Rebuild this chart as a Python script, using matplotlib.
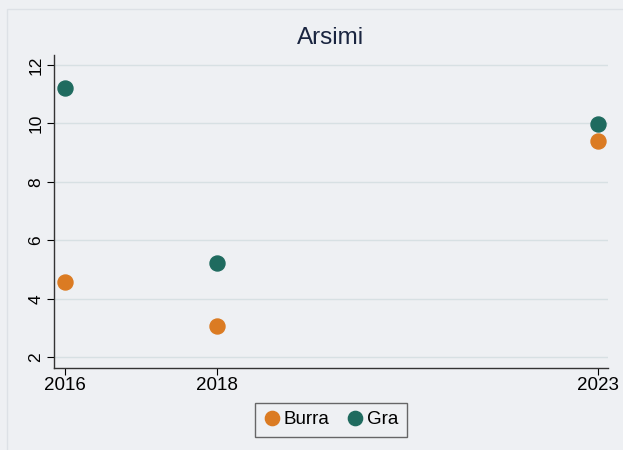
import matplotlib
matplotlib.use("Agg")
import matplotlib.pyplot as plt
from matplotlib.patches import Rectangle

# data
years = [2016, 2018, 2023]
burra = [4.57, 3.08, 9.40]
gra = [11.22, 5.23, 9.98]
yticks = [2, 4, 6, 8, 10, 12]

bg = "#eef0f3"
orange = "#db7b22"
teal = "#1f6b5f"

plt.rcParams["font.family"] = ["Liberation Sans", "DejaVu Sans"]

fig = plt.figure(figsize=(6.23, 4.5), dpi=100, facecolor=bg)
# faint inner frame
fig.patches.append(Rectangle((7 / 623, -0.1), 1.1, 1 - 9 / 450 + 0.1, transform=fig.transFigure,
                             fill=False, edgecolor="#dde1e6", linewidth=1))

W, H = 623, 450
left, right, top, bottom = 54.4, 608, 55, 367.7
ax = fig.add_axes([left / W, 1 - bottom / H, (right - left) / W, (bottom - top) / H])
ax.set_facecolor(bg)

ax.plot(years, burra, "o", color=orange, markersize=10.8, label="Burra", zorder=3)
ax.plot(years, gra, "o", color=teal, markersize=10.8, label="Gra", zorder=3)

ax.set_xlim(2015.865, 2023.13)
ax.set_ylim(1.65, 12.34)
ax.set_xticks(years)
ax.set_yticks(yticks)
ax.set_yticklabels([str(v) for v in yticks], rotation=90, va="center")
ax.tick_params(axis="x", labelsize=13.5, colors="black", length=5, width=0.8, pad=2)
ax.tick_params(axis="y", labelsize=12.5, colors="black", length=5, width=0.8, pad=3)
ax.grid(axis="y", color="#d7e0e3", linewidth=1)
ax.set_axisbelow(True)
for s in ["top", "right"]:
    ax.spines[s].set_visible(False)
for s in ["left", "bottom"]:
    ax.spines[s].set_color("#333333")
    ax.spines[s].set_linewidth(1)

fig.text(331 / W, 1 - 38 / H, "Arsimi", ha="center", va="center", fontsize=17.5, color="#1a2540")

leg = fig.legend(loc="center", bbox_to_anchor=(331 / W, 1 - 419.5 / H), ncol=2, fontsize=13.5,
                 frameon=True, fancybox=False, edgecolor="#444444", facecolor=bg,
                 handletextpad=0.2, columnspacing=0.9, borderpad=0.45, handlelength=0.9,
                 borderaxespad=0, markerscale=0.95)
leg.get_frame().set_linewidth(1)

fig.savefig("out.png", dpi=100, facecolor=bg)
